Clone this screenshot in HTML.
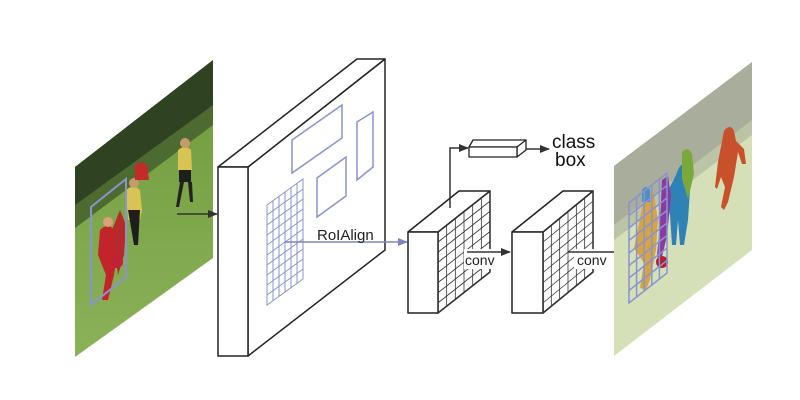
<!DOCTYPE html>
<html><head><meta charset="utf-8"><style>
html,body{margin:0;padding:0;background:#fff;}
svg{display:block;font-family:"Liberation Sans",sans-serif;}
</style></head><body>
<svg width="800" height="400" viewBox="0 0 800 400" xmlns="http://www.w3.org/2000/svg">
<defs>
<clipPath id="cl"><polygon points="75,167 213,60 213,258 75,357"/></clipPath>
<clipPath id="cr"><polygon points="614,166 752,62 752,250 614,356"/></clipPath>
<linearGradient id="grass" x1="0" y1="0" x2="0" y2="1">
<stop offset="0" stop-color="#6f9a3c"/><stop offset="1" stop-color="#8cb25a"/></linearGradient>
<marker id="ah" markerWidth="10" markerHeight="10" refX="9" refY="5" orient="auto" markerUnits="userSpaceOnUse"><path d="M0,1 L10,5 L0,9 z" fill="#333"/></marker>
<marker id="ahb" markerWidth="10" markerHeight="10" refX="9" refY="5" orient="auto" markerUnits="userSpaceOnUse"><path d="M0,1 L10,5 L0,9 z" fill="#7d86c4"/></marker>
<g id="g6x10"><path vector-effect="non-scaling-stroke" d="M0,0H1V1H0Z M0.1667,0V1 M0.3333,0V1 M0.5,0V1 M0.6667,0V1 M0.8333,0V1 M0,0.1H1 M0,0.2H1 M0,0.3H1 M0,0.4H1 M0,0.5H1 M0,0.6H1 M0,0.7H1 M0,0.8H1 M0,0.9H1" fill="none"/></g>
<g id="g6x8"><path vector-effect="non-scaling-stroke" d="M0,0H1V1H0Z M0.1667,0V1 M0.3333,0V1 M0.5,0V1 M0.6667,0V1 M0.8333,0V1 M0,0.125H1 M0,0.25H1 M0,0.375H1 M0,0.5H1 M0,0.625H1 M0,0.75H1 M0,0.875H1" fill="none"/></g>
<g id="g5x8"><path vector-effect="non-scaling-stroke" d="M0,0H1V1H0Z M0.2,0V1 M0.4,0V1 M0.6,0V1 M0.8,0V1 M0,0.125H1 M0,0.25H1 M0,0.375H1 M0,0.5H1 M0,0.625H1 M0,0.75H1 M0,0.875H1" fill="none"/></g>
</defs>

<!-- left image -->
<g clip-path="url(#cl)">
<rect x="70" y="55" width="150" height="310" fill="url(#grass)"/>
<polygon points="75,160 213,50 213,120 75,222" fill="#2f4221"/>
<polygon points="75,205 213,105 213,125 75,228" fill="#4d6a30"/>
<!-- players -->
<path d="M100,230 q8,-8 14,0 l4,20 -4,25 -6,25 -6,0 4,-25 -8,-20 z" fill="#c3242a"/>
<circle cx="108" cy="222" r="5" fill="#d9a07a"/>
<path d="M112,230 l8,-20 6,15 -2,30 -6,20 z" fill="#b82a2a"/>
<path d="M126,190 q8,-6 14,0 l2,20 -2,10 -12,0 z" fill="#d8c455"/>
<path d="M128,210 h12 l-2,35 -4,0 z" fill="#1e1e1e"/>
<circle cx="134" cy="183" r="5" fill="#c79a6a"/>
<path d="M135,165 q6,-5 12,0 l2,15 -14,0 z" fill="#c52a2a"/>
<path d="M178,150 q7,-6 13,0 l1,20 -14,0 z" fill="#d8c455"/>
<rect x="179" y="170" width="12" height="12" fill="#1e1e1e"/>
<path d="M180,182 l-4,25 3,0 5,-25 z M188,182 l2,20 3,0 -1,-20 z" fill="#222"/>
<circle cx="185" cy="143" r="5" fill="#c79a6a"/>
<circle cx="117" cy="262" r="6" fill="#c22036"/>
</g>
<g transform="matrix(35,-28,0,98,91,207)" stroke="#8a93d0" stroke-width="2"><path vector-effect="non-scaling-stroke" d="M0,0H1V1H0Z" fill="none"/></g>
<line x1="177" y1="214" x2="217" y2="214" stroke="#333" stroke-width="1.5" marker-end="url(#ah)"/>

<!-- big feature map -->
<g stroke="#222" stroke-width="1.5" fill="#fff" stroke-linejoin="round">
<polygon points="248,167 385,59 385,250 248,356"/>
<polygon points="218,167 357,59 385,59 248,167"/>
<rect x="218" y="167" width="30" height="189"/>
</g>
<g stroke="#8a93d0" stroke-width="1.5" fill="none">
<polygon points="292,140 342,105 342,138 292,173"/>
<polygon points="317,178 346,157 346,196 317,217"/>
<polygon points="357,122 373,112 373,167 357,180"/>
</g>
<g transform="matrix(36,-26,0,100,267,205)" stroke="#8a93d0" stroke-width="1"><use href="#g6x10"/></g>
<line x1="285" y1="242" x2="407" y2="242" stroke="#7d86c4" stroke-width="1.5" marker-end="url(#ahb)"/>
<text x="317" y="240" font-size="15" fill="#222">RoIAlign</text>

<!-- box1 -->
<g stroke="#222" stroke-width="1.5" fill="#fff" stroke-linejoin="round">
<polygon points="438,232 490,191 490,272 438,313"/>
<polygon points="408,232 459,191 490,191 438,232"/>
<rect x="408" y="232" width="30" height="81"/>
</g>
<g transform="matrix(52,-41,0,81,438,232)" stroke="#333" stroke-width="0.8"><use href="#g6x8"/></g>
<!-- box2 -->
<g stroke="#222" stroke-width="1.5" fill="#fff" stroke-linejoin="round">
<polygon points="543,232 593,191 593,272 543,313"/>
<polygon points="512,232 563,191 593,191 543,232"/>
<rect x="512" y="232" width="31" height="81"/>
</g>
<g transform="matrix(50,-41,0,81,543,232)" stroke="#333" stroke-width="0.8"><use href="#g6x8"/></g>

<!-- conv arrows -->
<rect x="464" y="249" width="36" height="20" fill="#fff"/>
<line x1="467" y1="252" x2="510" y2="252" stroke="#333" stroke-width="1.5" marker-end="url(#ah)"/>
<text x="465" y="265" font-size="14" fill="#222">conv</text>
<rect x="574" y="249" width="40" height="20" fill="#fff"/>
<line x1="568" y1="252" x2="629" y2="252" stroke="#333" stroke-width="1.5" marker-end="url(#ah)"/>
<text x="577" y="265" font-size="14" fill="#222">conv</text>

<!-- class/box branch -->
<path d="M450,208 V148 H468" fill="none" stroke="#333" stroke-width="1.5" marker-end="url(#ah)"/>
<g stroke="#222" stroke-width="1.3" fill="#fff" stroke-linejoin="round">
<polygon points="469,147 473,140 526,140 522,147"/>
<polygon points="517,147 526,140 526,150 517,157"/>
<rect x="469" y="147" width="48" height="10"/>
</g>
<line x1="526" y1="149" x2="549" y2="149" stroke="#333" stroke-width="1.5" marker-end="url(#ah)"/>
<text x="552" y="148" font-size="19" fill="#111">class</text>
<text x="555" y="166" font-size="19" fill="#111">box</text>

<!-- right image -->
<g clip-path="url(#cr)">
<rect x="610" y="55" width="150" height="310" fill="#d6e0b8"/>
<polygon points="614,160 752,55 752,125 614,230" fill="#a9ad9c"/>
<polygon points="614,225 752,120 752,135 614,240" fill="#bcc4a6"/>
<path d="M724,131 q6,-8 10,0 l2,10 8,8 2,15 -4,0 -4,-12 -4,25 -6,25 -4,8 -3,-3 4,-20 -4,-10 -4,12 -2,-2 3,-25 z" fill="#c8502a"/>
<path d="M676,175 q6,-18 12,-5 l2,20 -2,30 -4,25 -4,0 -2,-25 -2,25 -4,0 -2,-30 -4,-20 z" fill="#2f82b5"/>
<path d="M682,152 q6,-6 10,2 l2,20 -6,25 -6,-20 z" fill="#7aa83a"/>
<path d="M662,180 l6,-4 3,20 -4,40 -6,25 -4,-5 3,-35 z" fill="#8a3aa0"/>
<path d="M645,195 q5,-10 9,0 l4,25 -2,30 -6,30 -4,10 -6,-2 4,-25 -10,-15 6,-30 z" fill="#d6a440"/>
<path d="M642,190 q4,-6 8,0 l0,12 -8,0 z" fill="#4f8fc8"/>
<circle cx="662" cy="262" r="6" fill="#b02030"/>
</g>
<g transform="matrix(38,-30,0,100,629,203)" stroke="#8a93d0" stroke-width="1.5"><use href="#g5x8"/></g>
</svg>
</body></html>
